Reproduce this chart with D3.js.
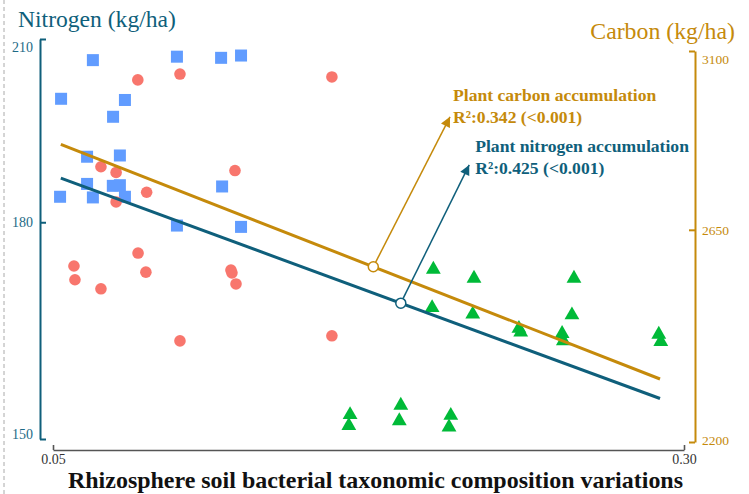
<!DOCTYPE html>
<html>
<head>
<meta charset="utf-8">
<script src="https://cdn.jsdelivr.net/npm/d3@7"></script>
<style>
  html, body { margin: 0; padding: 0; background: #fff; }
  svg { display: block; }
  svg text { font-family: "Liberation Serif", "Times New Roman", serif; }
</style>
</head>
<body>
<svg id="chart" width="749" height="494"></svg>
<script>
// ---- data ----
const squareX = [0.0658, 0.0532, 0.0785, 0.0738, 0.0991, 0.1166, 0.1245, 0.0635, 0.0765,
                 0.0635, 0.0737, 0.0765, 0.0528, 0.0658, 0.0785, 0.1170, 0.0991, 0.1245];
const squareY = [206.3, 199.7, 199.5, 196.7, 206.9, 206.7, 207.1, 190.2, 190.4,
                 185.9, 185.6, 185.7, 183.9, 183.8, 183.9, 185.5, 179.5, 179.3];

const circleX = [0.0836, 0.1003, 0.0690, 0.0750, 0.1221, 0.0871, 0.0750, 0.1605, 0.0837,
                 0.0583, 0.0587, 0.0868, 0.0690, 0.1205, 0.1209, 0.1225, 0.1003, 0.1605];
const circleY = [202.9, 203.9, 188.6, 187.7, 188.0, 184.6, 183.1, 203.4, 175.4,
                 173.5, 171.5, 172.6, 170.2, 172.9, 172.5, 170.9, 162.9, 163.6];

const triangleX = [0.2007, 0.2168, 0.2564, 0.2002, 0.2163, 0.2556, 0.2346, 0.2353, 0.2517,
                   0.2522, 0.2900, 0.2908, 0.1677, 0.1672, 0.1878, 0.1872, 0.2076, 0.2069];
const triangleY = [173.0, 171.7, 171.7, 167.5, 166.6, 166.5, 164.6, 164.1, 163.9,
                   162.9, 163.8, 162.8, 153.1, 151.7, 154.3, 152.3, 153.0, 151.5];

// fitted lines (ends)
const fitX = [0.0531, 0.2905];
const nitrogenFit = [186.8, 155.2];
const carbonFit = [2856, 2325];

// annotations
const carbonMarkX = 0.1769, nitrogenMarkX = 0.1878;
const carbonTip = [0.2073, 2926], nitrogenTip = [0.2149, 188.9];
const carbonLabel = ["Plant carbon accumulation", "R\u00b2:0.342 (<0.001)"];
const nitrogenLabel = ["Plant nitrogen accumulation", "R\u00b2:0.425 (<0.001)"];

const xTicks = [0.05, 0.30];
const nTicks = [150, 180, 210];
const cTicks = [2200, 2650, 3100];

const teal = "#0f5f7b";
const gold = "#c58a0b";
const serif = "Liberation Serif";

const svg = d3.select("#chart");

const x = d3.scaleLinear().domain([0.05, 0.30]).range([53, 684]);
const yN = d3.scaleLog().domain([150, 210]).range([439, 39]);
const yC = d3.scaleLog().domain([2200, 3100]).range([442, 51]);

// left dashed border
svg.append("line")
    .attr("x1", 4).attr("x2", 4).attr("y1", 0).attr("y2", 494)
    .attr("stroke", "#aaa").attr("stroke-dasharray", "4,3");

// left axis
const gL = svg.append("g").attr("transform", "translate(40,0)")
    .call(d3.axisLeft(yN).tickValues(nTicks).tickFormat(d3.format("d"))
        .tickSizeInner(-6).tickSizeOuter(0).tickPadding(7));
gL.attr("font-family", serif);
gL.select(".domain").attr("stroke", teal).attr("stroke-width", 2);
gL.selectAll(".tick line").attr("stroke", teal).attr("stroke-width", 2);
gL.selectAll(".tick text").attr("fill", "#1d6a86").attr("font-size", 14)
    .attr("font-family", serif)
    .attr("dy", d => d === 210 ? "0.9em" : d === 150 ? "-0.05em" : "0.32em");

// right axis
const gR = svg.append("g").attr("transform", "translate(695,0)")
    .call(d3.axisRight(yC).tickValues(cTicks).tickFormat(d3.format("d"))
        .tickSizeInner(-6).tickSizeOuter(0).tickPadding(7));
gR.attr("font-family", serif);
gR.select(".domain").attr("stroke", gold).attr("stroke-width", 2);
gR.selectAll(".tick line").attr("stroke", gold).attr("stroke-width", 2);
gR.selectAll(".tick text").attr("fill", gold).attr("font-size", 13.5)
    .attr("font-family", serif)
    .attr("dy", d => d === 3100 ? "0.9em" : d === 2200 ? "0.15em" : "0.32em");

// bottom axis
const gX = svg.append("g").attr("transform", "translate(0,450)")
    .call(d3.axisBottom(x).tickValues(xTicks).tickFormat(d3.format(".2f"))
        .tickSizeInner(-5).tickSizeOuter(0).tickPadding(4));
gX.attr("font-family", serif);
gX.select(".domain").attr("stroke", "#555").attr("stroke-width", 1.6);
gX.selectAll(".tick line").attr("stroke", "#555").attr("stroke-width", 1.6);
gX.selectAll(".tick text").attr("fill", "#333").attr("font-size", 14)
    .attr("font-family", serif);

// titles
svg.append("text").attr("x", 18).attr("y", 27).attr("font-family", serif)
    .attr("fill", teal).attr("font-size", 23.6).text("Nitrogen (kg/ha)");
svg.append("text").attr("x", 735).attr("y", 39).attr("text-anchor", "end")
    .attr("font-family", serif)
    .attr("fill", gold).attr("font-size", 23.8).text("Carbon (kg/ha)");
svg.append("text").attr("x", 68).attr("y", 488).attr("font-family", serif)
    .attr("font-size", 23.5).attr("font-weight", "bold").attr("fill", "#111")
    .attr("textLength", 615).attr("lengthAdjust", "spacingAndGlyphs")
    .text("Rhizosphere soil bacterial taxonomic composition variations");

// points
svg.append("g").selectAll("rect")
    .data(squareX.map((d, i) => [d, squareY[i]]))
    .join("rect")
    .attr("x", d => x(d[0]) - 6).attr("y", d => yN(d[1]) - 6)
    .attr("width", 12).attr("height", 12)
    .attr("fill", "#619CFF");

svg.append("g").selectAll("circle")
    .data(circleX.map((d, i) => [d, circleY[i]]))
    .join("circle")
    .attr("cx", d => x(d[0])).attr("cy", d => yN(d[1]))
    .attr("r", 5.8)
    .attr("fill", "#F8766D");

svg.append("g").selectAll("path")
    .data(triangleX.map((d, i) => [d, triangleY[i]]))
    .join("path")
    .attr("transform", d => `translate(${x(d[0])},${yN(d[1])})`)
    .attr("d", d3.symbol(d3.symbolTriangle, 95))
    .attr("fill", "#00BA38");

// fit lines
const line = d3.line();
const nPts = fitX.map((d, i) => [x(d), yN(nitrogenFit[i])]);
const cPts = fitX.map((d, i) => [x(d), yC(carbonFit[i])]);
svg.append("path").attr("d", line(nPts)).attr("stroke", teal)
    .attr("stroke-width", 3).attr("fill", "none");
svg.append("path").attr("d", line(cPts)).attr("stroke", gold)
    .attr("stroke-width", 3).attr("fill", "none");

// arrowheads
const defs = svg.append("defs");
[["arrC", gold], ["arrN", teal]].forEach(([id, col]) => {
    defs.append("marker").attr("id", id)
        .attr("viewBox", "0 0 10 10").attr("refX", 10).attr("refY", 5)
        .attr("markerWidth", 12).attr("markerHeight", 10)
        .attr("markerUnits", "userSpaceOnUse").attr("orient", "auto")
        .append("path").attr("d", "M0,0L10,5L0,10z").attr("fill", col);
});

function onLine(pts, xv) {
    const px = x(xv);
    const t = (px - pts[0][0]) / (pts[1][0] - pts[0][0]);
    return [px, pts[0][1] + t * (pts[1][1] - pts[0][1])];
}

function annotate(pts, markX, tip, yScale, col, marker, labels, dx, dy1) {
    const p = onLine(pts, markX);
    const tp = [x(tip[0]), yScale(tip[1])];
    const ang = Math.atan2(tp[1] - p[1], tp[0] - p[0]);
    svg.append("line")
        .attr("x1", p[0] + 5 * Math.cos(ang)).attr("y1", p[1] + 5 * Math.sin(ang))
        .attr("x2", tp[0]).attr("y2", tp[1])
        .attr("stroke", col).attr("stroke-width", 1.5)
        .attr("marker-end", `url(#${marker})`);
    svg.append("circle").attr("cx", p[0]).attr("cy", p[1]).attr("r", 5)
        .attr("fill", "#fff").attr("stroke", col).attr("stroke-width", 1.5);
    svg.append("g").selectAll("text").data(labels).join("text")
        .attr("x", tp[0] + dx).attr("y", (d, i) => tp[1] + dy1 + i * 22)
        .attr("font-family", serif)
        .attr("fill", col).attr("font-size", 17.6).attr("font-weight", "bold")
        .text(d => d);
}

annotate(cPts, carbonMarkX, carbonTip, yC, gold, "arrC", carbonLabel, 3, -16);
annotate(nPts, nitrogenMarkX, nitrogenTip, yN, teal, "arrN", nitrogenLabel, 6, -13);
</script>
</body>
</html>
